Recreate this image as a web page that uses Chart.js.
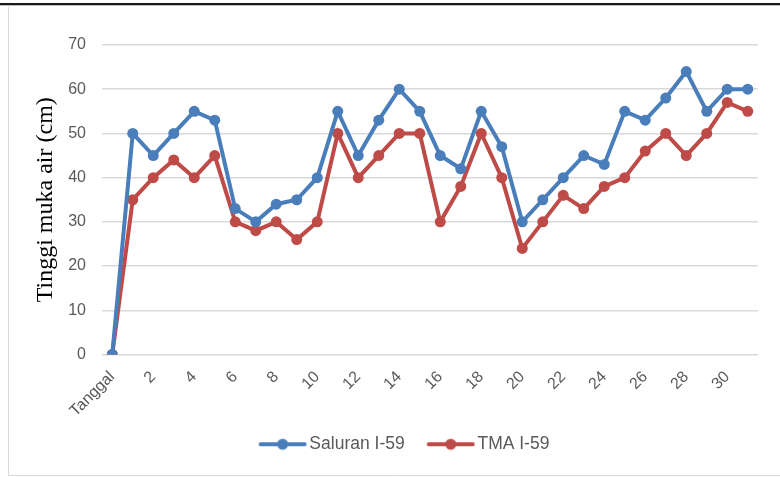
<!DOCTYPE html>
<html>
<head>
<meta charset="utf-8">
<script src="https://cdn.jsdelivr.net/npm/chart.js@4/dist/chart.umd.min.js"></script>
<style>
html,body{margin:0;padding:0;background:#fff;}
#wrap{position:relative;width:780px;height:477px;}
</style>
</head>
<body>
<div id="wrap"><canvas id="c" width="780" height="477"></canvas></div>
<script>
const categories = ['Tanggal','1','2','3','4','5','6','7','8','9','10','11','12','13','14','15','16','17','18','19','20','21','22','23','24','25','26','27','28','29','30','31'];
const saluranValues = [0,50,45,50,55,53,33,30,34,35,40,55,45,53,60,55,45,42,55,47,30,35,40,45,43,55,53,58,64,55,60,60];
const tmaValues = [0,35,40,44,40,45,30,28,30,26,30,50,40,45,50,50,30,38,50,40,24,30,36,33,38,40,46,50,45,50,57,55];
const yTicks = [0,10,20,30,40,50,60,70];
const seriesNames = ['Saluran I-59','TMA I-59'];
const axisTitle = 'Tinggi muka air (cm)';

const BLUE = '#4A7EBB';
const RED = '#BE4B48';

function legendIcon(color){
  const cv = document.createElement('canvas');
  cv.width = 60; cv.height = 14;
  const g = cv.getContext('2d');
  g.strokeStyle = color; g.lineWidth = 4; g.lineCap = 'round';
  g.beginPath(); g.moveTo(12,7); g.lineTo(56,7); g.stroke();
  g.fillStyle = color; g.beginPath(); g.arc(34,7,5.5,0,Math.PI*2); g.fill();
  return cv;
}
const icons = [legendIcon(BLUE), legendIcon(RED)];

const framePlugin = {
  id:'frame',
  afterLayout(chart){
    if (chart.legend) { chart.legend.left += 13; chart.legend.right += 13; }
  },
  beforeDraw(chart){
    const ctx = chart.ctx;
    ctx.save();
    ctx.fillStyle = '#fff';
    ctx.fillRect(0,0,chart.width,chart.height);
    ctx.strokeStyle = '#d9d9d9';
    ctx.lineWidth = 1;
    ctx.beginPath();
    ctx.moveTo(8.5,7); ctx.lineTo(8.5,475.5); ctx.lineTo(780,475.5);
    ctx.stroke();
    ctx.fillStyle = '#1a1a1a';
    ctx.fillRect(0,3,780,2);
    ctx.fillStyle = '#bdbdbd';
    ctx.fillRect(0,5,780,1);
    ctx.restore();
  }
};

new Chart(document.getElementById('c'), {
  type:'line',
  data:{
    labels: categories,
    datasets:[
      {label: seriesNames[0], data: saluranValues, borderColor: BLUE, backgroundColor: BLUE,
       borderWidth:4, pointRadius:5.5, pointBackgroundColor: BLUE, pointBorderWidth:0, tension:0},
      {label: seriesNames[1], data: tmaValues, borderColor: RED, backgroundColor: RED,
       borderWidth:4, pointRadius:5.5, pointBackgroundColor: RED, pointBorderWidth:0, tension:0}
    ]
  },
  options:{
    responsive:false,
    animation:false,
    layout:{padding:{left:22,right:22,top:45,bottom:14}},
    plugins:{
      tooltip:{enabled:false},
      legend:{
        position:'bottom',
        labels:{
          usePointStyle:true,
          pointStyleWidth:44,
          padding:20,
          color:'#595959',
          font:{family:'"Liberation Sans", Arial, sans-serif', size:17.5},
          generateLabels(chart){
            return chart.data.datasets.map((ds,i)=>({
              text: ds.label, pointStyle: icons[i], fillStyle: ds.borderColor,
              strokeStyle: ds.borderColor, lineWidth:0, hidden:false, datasetIndex:i, fontColor:'#595959'
            }));
          }
        }
      }
    },
    scales:{
      x:{
        offset:true,
        grid:{display:false, drawTicks:false},
        border:{display:false},
        afterFit(s){ s.height = 61; },
        ticks:{
          autoSkip:false, minRotation:45, maxRotation:45, padding:13,
          color:'#595959',
          font:{family:'"Liberation Sans", Arial, sans-serif', size:16},
          callback(v, i){ return i % 2 === 0 ? categories[i] : ''; }
        }
      },
      y:{
        min: yTicks[0], max: yTicks[yTicks.length-1],
        afterFit(s){ s.width = 80; },
        afterBuildTicks(s){ s.ticks = yTicks.map(v=>({value:v})); },
        grid:{color:'#d9d9d9', lineWidth:1.5, drawTicks:false},
        border:{display:false},
        ticks:{
          padding:16, color:'#595959',
          font:{family:'"Liberation Sans", Arial, sans-serif', size:16}
        },
        title:{
          display:true, text: axisTitle, color:'#000',
          font:{family:'"Liberation Serif", "Times New Roman", serif', size:24},
          padding:{top:9,bottom:0}
        }
      }
    }
  },
  plugins:[framePlugin]
});
</script>
</body>
</html>
